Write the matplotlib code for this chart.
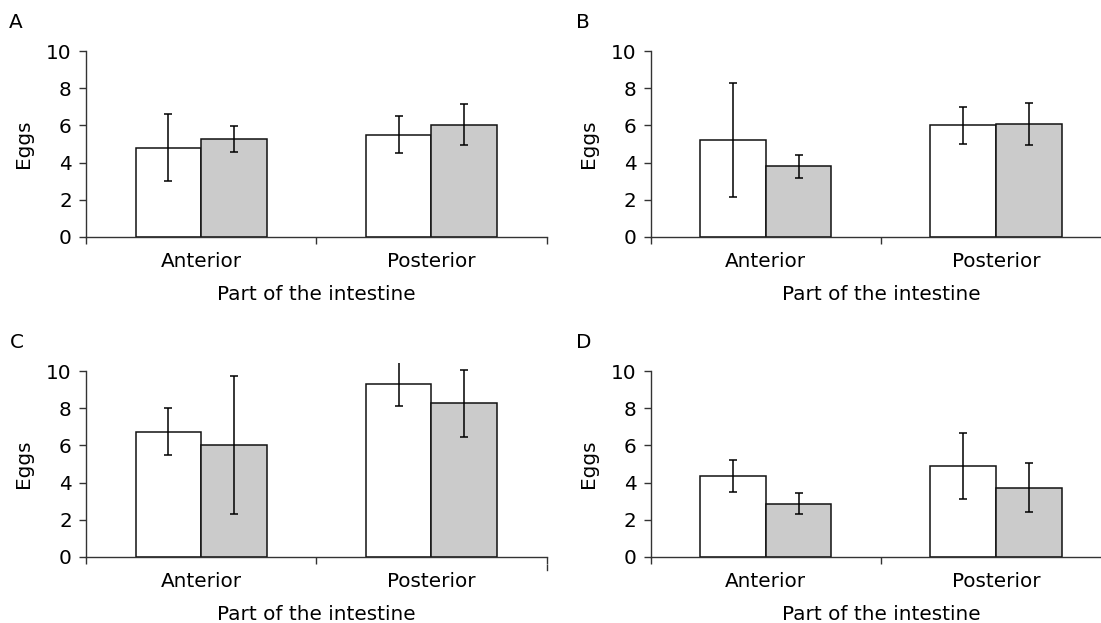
import matplotlib
matplotlib.use("Agg")
import matplotlib.pyplot as plt
import numpy as np


plt.rcParams["font.family"] = ["DejaVu Sans"]
Schrift = 14.4

# Daten
Kategorien = ["Anterior", "Posterior"]
Panels = ["A", "B", "C", "D"]

# Mittelwerte (weiss / grau) und Fehler
WeissMittel = {"A": [4.8, 5.5], "B": [5.2, 6.0], "C": [6.73, 9.32], "D": [4.37, 4.89]}
WeissFehler = {"A": [1.8, 1.0], "B": [3.07, 1.0], "C": [1.27, 1.17], "D": [0.86, 1.76]}
GrauMittel = {"A": [5.25, 6.05], "B": [3.8, 6.07], "C": [6.03, 8.27], "D": [2.86, 3.72]}
GrauFehler = {"A": [0.7, 1.1], "B": [0.63, 1.12], "C": [3.7, 1.8], "D": [0.55, 1.32]}

yTicks = [0, 2, 4, 6, 8, 10]

B, H = 1101, 623


def px(x, y):
    return x / B, (H - y) / H


# Achsen-Positionen (Pixel: links, Nulllinie)
Positionen = {"A": (86, 236.7), "B": (650.7, 236.7), "C": (86, 556.7), "D": (650.7, 556.7)}
Breite = 460.5
ProEinheit = 18.54
yMax = 10.45


def Panel(fig, name):
    links, null = Positionen[name]
    hoehe = yMax * ProEinheit
    ax = fig.add_axes([links / B, (H - null) / H, Breite / B, hoehe / H])

    x = np.arange(len(Kategorien))
    w = 0.285
    ax.bar(x - w / 2, WeissMittel[name], w, color="white", edgecolor="#111111", linewidth=1.1, zorder=2)
    ax.bar(x + w / 2, GrauMittel[name], w, color="#cbcbcb", edgecolor="#111111", linewidth=1.1, zorder=2)
    ax.errorbar(x - w / 2, WeissMittel[name], yerr=WeissFehler[name], fmt="none", ecolor="black",
                elinewidth=1.1, capsize=3, capthick=1.1, zorder=3)
    ax.errorbar(x + w / 2, GrauMittel[name], yerr=GrauFehler[name], fmt="none", ecolor="black",
                elinewidth=1.1, capsize=3, capthick=1.1, zorder=3)

    ax.set_xlim(-0.5, 1.5)
    ax.set_ylim(0, yMax)

    # Achsen einstellen
    for s in ["top", "right"]:
        ax.spines[s].set_visible(False)
    ax.spines["left"].set_bounds(0, 10)
    ax.spines["left"].set_color("#333333")
    ax.spines["bottom"].set_color("#333333")
    ax.spines["left"].set_linewidth(1.0)
    ax.spines["bottom"].set_linewidth(1.0)

    ax.set_yticks(yTicks)
    ax.set_xticks([-0.5, 0.5, 1.5])
    ax.set_xticklabels([])
    ax.set_xticks(x, minor=True)
    ax.set_xticklabels(Kategorien, minor=True, fontsize=Schrift)
    ax.tick_params(axis="x", which="minor", length=0, pad=11)
    ax.tick_params(axis="x", which="major", direction="out", length=5, width=1.0, color="#333333")
    ax.tick_params(axis="y", direction="out", length=5, width=1.0, color="#333333", pad=5.2, labelsize=Schrift)

    # Label & co.
    ax.set_ylabel("Eggs", fontsize=Schrift)
    ax.yaxis.set_label_coords(-0.115, 5 / yMax)
    ax.set_xlabel("Part of the intestine", fontsize=Schrift)
    ax.xaxis.set_label_coords(0.5, -0.247)

    if name == "C":
        # verschobener Strich am rechten Ende
        ax.plot([1.5, 1.5], [-8.5 / hoehe, -13.5 / hoehe], color="#333333", linewidth=1.0,
                transform=ax.get_xaxis_transform(), clip_on=False)
    return ax


fig = plt.figure(figsize=(B / 100, H / 100), dpi=100)

for name in Panels:
    Panel(fig, name)

# Panel-Buchstaben
Buchstaben = {"A": (9.3, 28), "B": (575.5, 28), "C": (9.5, 347.5), "D": (575.5, 347.7)}
for name, (bx, by) in Buchstaben.items():
    fx, fy = px(bx, by)
    fig.text(fx, fy, name, fontsize=Schrift, ha="left", va="baseline")

fig.savefig("out.png", dpi=100)
